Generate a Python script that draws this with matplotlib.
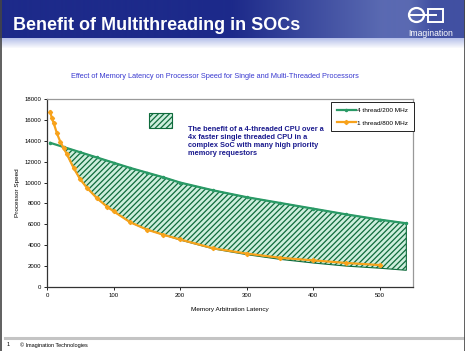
import numpy as np
import matplotlib.pyplot as plt
from matplotlib.patches import Rectangle, Ellipse

plt.rcParams['font.family'] = ['Liberation Sans', 'DejaVu Sans']
plt.rcParams['hatch.linewidth'] = 0.9

# data
thread4_x = [5, 25, 50, 75, 100, 125, 150, 175, 200, 250, 300, 350, 400, 450, 500, 540]
thread4_y = [13800, 13400, 12900, 12400, 11900, 11400, 10950, 10500, 10000,
             9250, 8600, 8050, 7500, 6950, 6450, 6100]

thread1_x = [5, 7, 10, 15, 20, 25, 30, 40, 50, 60, 75, 90, 100, 125, 150, 175,
             200, 250, 300, 350, 400, 450, 500]
thread1_y = [16800, 16200, 15700, 14700, 13900, 13300, 12700, 11400, 10300, 9500,
             8500, 7700, 7250, 6200, 5500, 5000, 4550, 3700, 3200, 2800, 2550,
             2300, 2100]

# lower edge of the shaded "benefit" band
band_low_x = [22, 25, 30, 40, 50, 60, 75, 90, 100, 125, 150, 175, 200, 250, 300,
              350, 400, 450, 500, 540]
band_low_y = [13460, 13300, 12700, 11400, 10300, 9500, 8500, 7700, 7250, 6200,
              5500, 5000, 4500, 3650, 3100, 2650, 2300, 2000, 1800, 1600]

xticks = [0, 100, 200, 300, 400, 500]
yticks = list(range(0, 18001, 2000))

W, H = 465, 351
fig = plt.figure(figsize=(W / 100, H / 100), dpi=100)

# slide background in pixel coordinates
bg = fig.add_axes([0, 0, 1, 1])
bg.set_xlim(0, W)
bg.set_ylim(H, 0)
bg.axis('off')

xs = np.linspace(0, 1, W)
dark = np.array([0x1d, 0x2a, 0x8a]) / 255
light = np.array([0x5a, 0x6a, 0xb2]) / 255
t = np.clip((xs - 0.5) / 0.32, 0, 1) * np.clip((1.0 - xs) / 0.12, 0.6, 1)
row = dark + (light - dark) * t[:, None]
hdr = np.ones((48, W, 3))
hdr[:38] = row
for i in range(38, 48):
    k = (i - 38) / 10
    hdr[i] = (np.array([0.72, 0.76, 0.92]) * (1 - k) + k)
bg.imshow(hdr, extent=(0, W, 48, 0), aspect='auto')

bg.text(13, 25, 'Benefit of Multithreading in SOCs', color='white',
        fontsize=13, fontweight='bold', va='center', ha='left')

# logo
bg.add_patch(Ellipse((416.5, 15), 15, 14, fill=False, ec='white', lw=1.6))
bg.plot([410, 436], [15, 15], color='white', lw=1.4)
bg.add_patch(Rectangle((428, 9), 15, 13, fill=False, ec='white', lw=1.4))
bg.text(431, 33, 'Imagination', color='white', fontsize=6.2, ha='center',
        va='center')

# footer
bg.plot([5, W], [338, 338], color='#c4c4c4', lw=2.2)
bg.text(7, 345, '1', fontsize=4, va='center')
bg.text(20, 345, '\u00a9 Imagination Technologies', fontsize=4, va='center')

# slide frame
bg.plot([0.5, 0.5], [0, H], color='#444444', lw=1.2)
bg.plot([W - 0.5, W - 0.5], [0, H], color='#444444', lw=1.2)

bg.text(215, 76, 'Effect of Memory Latency on Processor Speed for Single and '
        'Multi-Threaded Processors', color='#3a3ad0', fontsize=5.3,
        ha='center', va='center')

# chart
ax = fig.add_axes([47 / W, 1 - 287 / H, 366 / W, 188 / H])
ax.set_xlim(0, 550)
ax.set_ylim(0, 18000)

green = '#2a9a66'
orange = '#f7a21b'

band_x = [band_low_x[0]] + thread4_x[1:] + band_low_x[::-1]
band_y = [band_low_y[0]] + thread4_y[1:] + band_low_y[::-1]
ax.fill(band_x, band_y, facecolor='#cdeedd', edgecolor='#0f6b3c',
        hatch='//////', lw=0.8, zorder=1)

ax.plot(thread4_x, thread4_y, color=green, lw=1.6, marker='o', ms=1.5,
        label='4 thread/200 MHz', zorder=3)
ax.plot(thread1_x, thread1_y, color=orange, lw=1.6, marker='D', ms=2.1,
        label='1 thread/800 MHz', zorder=4)

ax.set_xticks(xticks)
ax.set_yticks(yticks)
ax.tick_params(labelsize=4.3, length=2, width=0.6, pad=2)
for s in ['left', 'bottom']:
    ax.spines[s].set_color('#333333')
    ax.spines[s].set_linewidth(0.9)
for s in ['top', 'right']:
    ax.spines[s].set_color('#999999')
    ax.spines[s].set_linewidth(0.9)

ax.set_xlabel('Memory Arbitration Latency', fontsize=4.6, labelpad=7)
ax.set_ylabel('Processor Speed', fontsize=4.6, labelpad=3)

leg = ax.legend(loc='upper right', bbox_to_anchor=(1.003, 0.985), fontsize=4.6,
                frameon=True, fancybox=False, edgecolor='#222222',
                framealpha=1, borderaxespad=0, handlelength=3,
                borderpad=0.9, labelspacing=1.1, handletextpad=0.2)
leg.get_frame().set_linewidth(0.7)

# swatch and note
ax.add_patch(Rectangle((0.278, 0.845), 0.063, 0.08, transform=ax.transAxes,
                       facecolor='#cdeedd', edgecolor='#0f6b3c',
                       hatch='//////', lw=0.8))
ax.text(0.385, 0.858, 'The benefit of a 4-threaded CPU over a\n'
        '4x faster single threaded CPU in a\n'
        'complex SoC with many high priority\n'
        'memory requestors', transform=ax.transAxes, fontsize=5.3,
        fontweight='bold', color='#1a1a8e', va='top', ha='left',
        linespacing=1.25)

fig.savefig('out.png', dpi=100)
